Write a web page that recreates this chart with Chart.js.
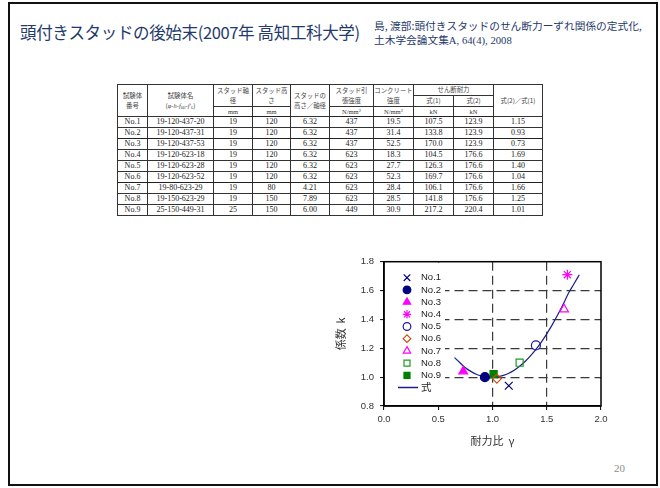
<!DOCTYPE html>
<html lang="ja">
<head>
<meta charset="utf-8">
<script src="https://cdn.jsdelivr.net/npm/chart.js@4.4.1/dist/chart.umd.min.js"></script>
<style>
html,body{margin:0;padding:0;background:#fff;}
#slide{position:relative;width:660px;height:488px;overflow:hidden;background:#fff;}
#frame{position:absolute;left:8px;top:2px;width:646px;height:480px;border:2px solid #111;}
#title{position:absolute;left:20px;top:24px;font-family:'Noto Sans CJK JP',sans-serif;font-size:16.5px;color:#1f3a6c;white-space:nowrap;line-height:1;letter-spacing:-0.35px;}
#cite{position:absolute;left:374px;top:19px;font-family:'Noto Sans CJK JP',sans-serif;font-size:10.7px;color:#1f3a6c;line-height:14px;white-space:nowrap;letter-spacing:0;}
#cite .num{font-family:'Liberation Serif',serif;}
#page{position:absolute;left:614px;top:462px;font-family:'Liberation Serif',serif;font-size:11px;color:#8c8c8c;}
#spec{position:absolute;left:117px;top:84px;width:425px;border-collapse:collapse;table-layout:fixed;
  font-family:'Liberation Serif','Times New Roman',serif;font-size:8px;color:#222;border:1.5px solid #222;}
#spec td,#spec th{border:1px solid #333;padding:0;text-align:center;line-height:1;overflow:hidden;white-space:nowrap;}
#spec th{font-family:'Noto Sans CJK JP',sans-serif;font-weight:normal;font-size:6.4px;color:#444;line-height:10px;}
#spec th .ln{display:block;height:10px;line-height:10px;overflow:hidden;}
#spec th.u{font-family:'Liberation Serif',serif;font-size:6.5px;color:#333;line-height:9px;}
#spec th.u sup{font-size:4.5px;line-height:0;vertical-align:2px;}
#spec th i{font-family:'Liberation Serif',serif;}
#spec th sub{font-size:4.5px;line-height:0;vertical-align:-1px;}
#spec thead tr.r1 th,#spec thead tr.r2 th{height:10px;}
#spec thead tr.r3 th{height:9px;}
#spec tbody td{height:10px;}
#spec tbody tr.sep td{border-bottom:1.6px solid #222;}
#spec thead tr.r3 th{border-bottom:1.6px solid #222;}
#chartBox{position:absolute;left:320px;top:250px;width:300px;height:210px;}
</style>
</head>
<body>
<div id="slide">
  <div id="frame"></div>
  <div id="title">頭付きスタッドの後始末(2007年 高知工科大学)</div>
  <div id="cite">島, 渡部:頭付きスタッドのせん断力ーずれ関係の定式化,<br>土木学会論文集<span class="num">A, 64(4), 2008</span></div>

  <table id="spec">
    <colgroup>
      <col style="width:30px"><col style="width:66px"><col style="width:39px"><col style="width:38px"><col style="width:39px">
      <col style="width:44px"><col style="width:40px"><col style="width:40px"><col style="width:40px"><col style="width:49px">
    </colgroup>
    <thead>
      <tr class="r1">
        <th rowspan="3"><span class="ln">試験体</span><span class="ln">番号</span></th>
        <th rowspan="3"><span class="ln">試験体名</span><span class="ln">(<i>φ</i>-<i>h</i>-<i>f</i><sub>su</sub>-<i>f'</i><sub>c</sub>)</span></th>
        <th rowspan="2"><span class="ln">スタッド軸</span><span class="ln">径</span></th>
        <th rowspan="2"><span class="ln">スタッド高</span><span class="ln">さ</span></th>
        <th rowspan="3"><span class="ln">スタッドの</span><span class="ln">高さ／軸径</span></th>
        <th rowspan="2"><span class="ln">スタッド引</span><span class="ln">張強度</span></th>
        <th rowspan="2"><span class="ln">コンクリート</span><span class="ln">強度</span></th>
        <th colspan="2">せん断耐力</th>
        <th rowspan="3">式(2)／式(1)</th>
      </tr>
      <tr class="r2"><th>式(1)</th><th>式(2)</th></tr>
      <tr class="r3"><th class="u">mm</th><th class="u">mm</th><th class="u">N/mm<sup>2</sup></th><th class="u">N/mm<sup>2</sup></th><th class="u">kN</th><th class="u">kN</th></tr>
    </thead>
    <tbody></tbody>
  </table>

  <div id="chartBox"><canvas id="chart"></canvas></div>
  <div id="page">20</div>
</div>

<script>
// Test specimens (table rows)
const specimenNo = ['No.1','No.2','No.3','No.4','No.5','No.6','No.7','No.8','No.9'];
const specimenName = ['19-120-437-20','19-120-437-31','19-120-437-53','19-120-623-18','19-120-623-28','19-120-623-52','19-80-623-29','19-150-623-29','25-150-449-31'];
const studDiameter = [19,19,19,19,19,19,19,19,25];
const studHeight = [120,120,120,120,120,120,80,150,150];
const heightToDiameter = [6.32,6.32,6.32,6.32,6.32,6.32,4.21,7.89,6.00];
const studTensile = [437,437,437,623,623,623,623,623,449];
const concreteStrength = [19.5,31.4,52.5,18.3,27.7,52.3,28.4,28.5,30.9];
const shearEq1 = [107.5,133.8,170.0,104.5,126.3,169.7,106.1,141.8,217.2];
const shearEq2 = [123.9,123.9,123.9,176.6,176.6,176.6,176.6,176.6,220.4];
const strengthRatio = [1.15,0.93,0.73,1.69,1.40,1.04,1.66,1.25,1.01];

// Coefficient k for each specimen
const coefK = [0.94,1.00,1.04,1.71,1.22,0.99,1.47,1.10,1.02];

// Fitted relation 式 (k against γ)
const curveGamma = [0.65,0.70,0.75,0.80,0.85,0.90,0.95,1.00,1.05,1.10,1.15,1.20,1.25,1.30,1.35,1.40,1.45,1.50,1.55,1.60,1.65,1.70,1.75,1.80];
const curveK     = [1.135,1.100,1.065,1.040,1.020,1.008,1.002,1.000,1.003,1.012,1.027,1.048,1.075,1.108,1.147,1.192,1.243,1.300,1.362,1.430,1.503,1.582,1.645,1.710];

const curveLabel = '式';
const xTicksMin = 0, xTicksMax = 2.0, xStep = 0.5;
const yTicksMin = 0.8, yTicksMax = 1.8, yStep = 0.2;

// table body
const tbody = document.querySelector('#spec tbody');
specimenNo.forEach((no, i) => {
  const tr = document.createElement('tr');
  if (i === 1 || i === 5) tr.className = 'sep';
  [no, specimenName[i], studDiameter[i], studHeight[i], heightToDiameter[i].toFixed(2), studTensile[i],
   concreteStrength[i].toFixed(1), shearEq1[i].toFixed(1), shearEq2[i].toFixed(1), strengthRatio[i].toFixed(2)]
    .forEach(v => { const td = document.createElement('td'); td.textContent = v; tr.appendChild(td); });
  tbody.appendChild(tr);
});

// marker look per specimen
const markerStyles = [
  {pointStyle:'crossRot', color:'#000080', fill:false, radius:5.5},
  {pointStyle:'circle',   color:'#000080', fill:true,  radius:4.5},
  {pointStyle:'triangle', color:'#ff00ff', fill:true,  radius:5},
  {pointStyle:'star',     color:'#ff00ff', fill:false, radius:5},
  {pointStyle:'circle',   color:'#1a1a99', fill:false, radius:4.5},
  {pointStyle:'rectRot',  color:'#c8500f', fill:false, radius:4.5},
  {pointStyle:'triangle', color:'#ff00ff', fill:false, radius:5},
  {pointStyle:'rect',     color:'#229922', fill:false, radius:5},
  {pointStyle:'rect',     color:'#008000', fill:true,  radius:5}
];

const pointSets = specimenNo.map((name, i) => {
  const m = markerStyles[i];
  return {
    label: name,
    data: [{x: strengthRatio[i], y: coefK[i]}],
    showLine: false,
    pointStyle: m.pointStyle,
    pointRadius: m.radius,
    pointHoverRadius: m.radius,
    pointBorderColor: m.color,
    pointBackgroundColor: m.fill ? m.color : 'rgba(0,0,0,0)',
    pointBorderWidth: 1.2
  };
});

const curveSet = {
  label: curveLabel,
  data: curveGamma.map((g, i) => ({x: g, y: curveK[i]})),
  showLine: true,
  borderColor: '#1c1c8c',
  borderWidth: 1.2,
  pointRadius: 0,
  cubicInterpolationMode: 'monotone'
};

// legend drawn on a white patch inside the plot area
const insetLegend = {
  id: 'insetLegend',
  beforeDatasetsDraw(chart) {
    const {ctx, chartArea: a} = chart;
    ctx.save();
    ctx.fillStyle = '#fff';
    ctx.fillRect(a.left + 1, a.top + 1, 60, a.bottom - a.top - 2);
    ctx.textBaseline = 'middle';
    ctx.textAlign = 'left';
    const draw = Chart.helpers && Chart.helpers.drawPoint;
    chart.data.datasets.forEach((ds, i) => {
      const y = a.top + 16 + i * 12.2;
      const mx = a.left + 23;
      ctx.font = '9.5px "Liberation Sans", Arial, sans-serif';
      if (ds.showLine) {
        ctx.strokeStyle = ds.borderColor;
        ctx.lineWidth = 1.5;
        ctx.beginPath();
        ctx.moveTo(a.left + 14, y);
        ctx.lineTo(a.left + 34, y);
        ctx.stroke();
        ctx.font = '10.5px "Noto Sans CJK JP", sans-serif';
      } else if (draw) {
        ctx.strokeStyle = ds.pointBorderColor;
        ctx.fillStyle = ds.pointBackgroundColor;
        ctx.lineWidth = ds.pointBorderWidth;
        draw(ctx, {pointStyle: ds.pointStyle, rotation: 0, radius: ds.pointRadius * 0.85, borderWidth: ds.pointBorderWidth}, mx, y);
      }
      ctx.fillStyle = '#222';
      ctx.fillText(ds.label, a.left + 37, y);
    });
    ctx.restore();
  }
};

// solid frame around the plot
const plotFrame = {
  id: 'plotFrame',
  afterDraw(chart) {
    const {ctx, chartArea: a} = chart;
    ctx.save();
    ctx.strokeStyle = '#000';
    ctx.lineWidth = 1.5;
    ctx.strokeRect(a.left, a.top, a.right - a.left, a.bottom - a.top);
    ctx.restore();
  }
};

const tickFont = {family: '"Liberation Sans", Arial, sans-serif', size: 9.5};
const titleFont = {family: '"Noto Sans CJK JP", sans-serif', size: 11};
const innerGrid = (lo, hi) => ctx => {
  const v = ctx.tick ? ctx.tick.value : null;
  return (v !== null && v > lo + 1e-6 && v < hi - 1e-6) ? '#3a3a3a' : 'rgba(0,0,0,0)';
};

new Chart(document.getElementById('chart'), {
  type: 'scatter',
  data: {datasets: [...pointSets, curveSet]},
  plugins: [insetLegend, plotFrame],
  options: {
    responsive: true,
    maintainAspectRatio: false,
    animation: false,
    devicePixelRatio: 1,
    layout: {padding: {top: 11, right: 19, bottom: 10, left: 0}},
    plugins: {legend: {display: false}, tooltip: {enabled: false}},
    scales: {
      x: {
        type: 'linear', min: xTicksMin, max: xTicksMax,
        ticks: {stepSize: xStep, font: tickFont, color: '#333', padding: 4, callback: v => Number(v).toFixed(1)},
        grid: {color: innerGrid(xTicksMin, xTicksMax), lineWidth: 1.2, tickColor: '#000', tickLength: 4, tickWidth: 1},
        border: {display: true, color: '#000', width: 1.5, dash: [9, 5]},
        title: {display: true, text: '耐力比  γ', font: titleFont, color: '#333', padding: {top: 0, bottom: 3}},
        afterFit: s => { s.height = 44; }
      },
      y: {
        type: 'linear', min: yTicksMin, max: yTicksMax,
        ticks: {stepSize: yStep, font: tickFont, color: '#333', padding: 6, callback: v => Number(v).toFixed(1)},
        grid: {color: innerGrid(yTicksMin, yTicksMax), lineWidth: 1.2, tickColor: '#000', tickLength: 4, tickWidth: 1},
        border: {display: true, color: '#000', width: 1.5, dash: [9, 5]},
        title: {display: true, text: '係数  k', font: titleFont, color: '#333', padding: {top: 14, bottom: 0}},
        afterFit: s => { s.width = 64; }
      }
    }
  }
});
</script>
</body>
</html>
